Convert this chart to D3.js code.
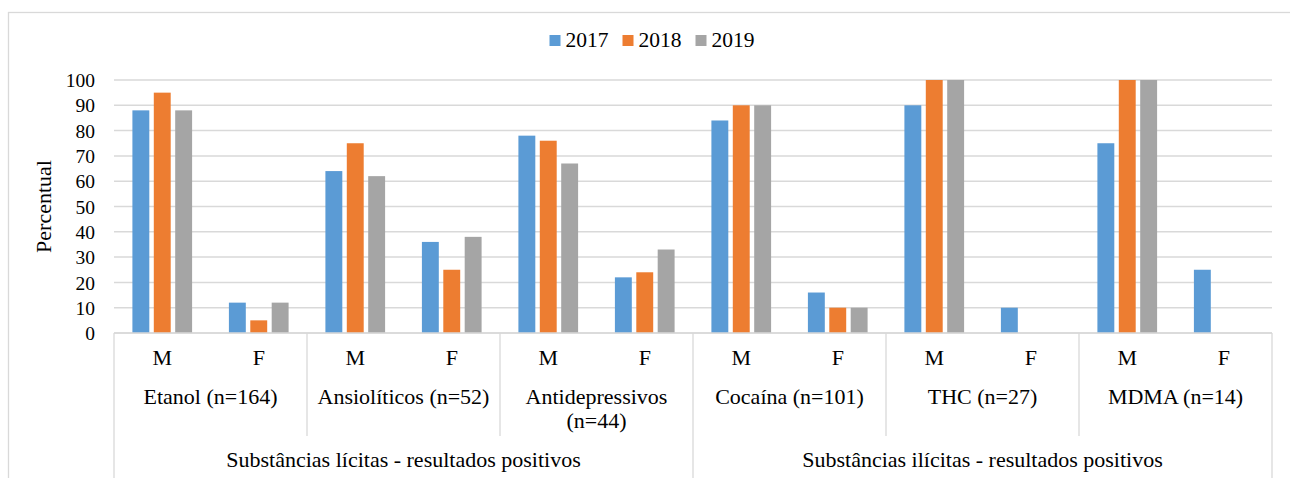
<!DOCTYPE html>
<html>
<head>
<meta charset="utf-8">
<script src="https://cdn.jsdelivr.net/npm/d3@7"></script>
<style>
  html, body { margin: 0; padding: 0; background: #fff; }
  svg { display: block; }
</style>
</head>
<body>
<svg id="chart" width="1290" height="478"></svg>
<script>
// ---- data ----
const years = ["2017", "2018", "2019"];
const sexes = ["M", "F"];
const substances = ["Etanol (n=164)", "Ansiolíticos (n=52)", "Antidepressivos (n=44)", "Cocaína (n=101)", "THC (n=27)", "MDMA (n=14)"];
const groups = ["Substâncias lícitas - resultados positivos", "Substâncias ilícitas - resultados positivos"];
const substancesPerGroup = 3;
const values2017 = [88, 12, 64, 36, 78, 22, 84, 16, 90, 10, 75, 25];
const values2018 = [95, 5, 75, 25, 76, 24, 90, 10, 100, 0, 100, 0];
const values2019 = [88, 12, 62, 38, 67, 33, 90, 10, 100, 0, 100, 0];
const yTicks = [0, 10, 20, 30, 40, 50, 60, 70, 80, 90, 100];
const yLabel = "Percentual";

const seriesValues = [values2017, values2018, values2019];
const colors = ["#5b9bd5", "#ed7d31", "#a5a5a5"];
const FONT = "Liberation Serif";

// ---- layout ----
const svg = d3.select("#chart");
const plot = { left: 114, right: 1272, top: 80, bottom: 333 };
const gridColor = "#d9d9d9";

function txt(sel, size) {
  return sel.style("font-family", FONT).style("font-size", size + "px").attr("fill", "#000");
}

// outer frame
svg.append("rect").attr("x", 8.5).attr("y", 12.5).attr("width", 1320).attr("height", 520)
  .attr("fill", "none").attr("stroke", gridColor).attr("stroke-width", 1.3);

const cats = d3.range(substances.length * sexes.length);
const x0 = d3.scaleBand().domain(cats).range([plot.left, plot.right]).padding(0);
const x1 = d3.scaleBand().domain(years).range([0, x0.bandwidth()]).paddingInner(0.21).paddingOuter(0.86);
const y = d3.scaleLinear().domain([0, 100]).range([plot.bottom, plot.top]);

// gridlines
svg.append("g").selectAll("line").data(yTicks).join("line")
  .attr("x1", plot.left).attr("x2", plot.right)
  .attr("y1", d => y(d)).attr("y2", d => y(d))
  .attr("stroke", gridColor).attr("stroke-width", 1.5);

// y axis labels
const yAxis = d3.axisLeft(y).tickValues(yTicks).tickSize(0).tickPadding(0);
const ya = svg.append("g").attr("transform", `translate(${95},0)`).call(yAxis)
  .attr("font-family", FONT);
ya.select(".domain").remove();
txt(ya.selectAll("text"), 19.5).attr("dy", "0.34em");

// y title
txt(svg.append("text"), 22).attr("transform", `translate(${51},${(plot.top + plot.bottom) / 2}) rotate(-90)`)
  .attr("text-anchor", "middle").text(yLabel);

// bars
const barData = [];
cats.forEach(c => years.forEach((yr, s) => barData.push({ c, yr, s, v: seriesValues[s][c] })));
svg.append("g").selectAll("rect").data(barData.filter(d => d.v > 0)).join("rect")
  .attr("x", d => x0(d.c) + x1(d.yr))
  .attr("width", x1.bandwidth())
  .attr("y", d => y(d.v))
  .attr("height", d => y(0) - y(d.v))
  .attr("fill", d => colors[d.s]);

// category axis lines
const catStep = x0.step();
const subW = catStep * sexes.length;
const grpW = subW * substancesPerGroup;
const axisG = svg.append("g").attr("stroke", gridColor).attr("stroke-width", 1.3);
axisG.append("line").attr("x1", plot.left).attr("x2", plot.right).attr("y1", plot.bottom).attr("y2", plot.bottom);
substances.forEach((s, i) => {
  if (i === 0) return;
  const xx = plot.left + i * subW;
  const full = i % substancesPerGroup === 0;
  axisG.append("line").attr("x1", xx).attr("x2", xx).attr("y1", plot.bottom).attr("y2", full ? 478 : 436);
});
axisG.append("line").attr("x1", plot.left).attr("x2", plot.left).attr("y1", plot.bottom).attr("y2", 478);
axisG.append("line").attr("x1", plot.right).attr("x2", plot.right).attr("y1", plot.bottom).attr("y2", 478);

const LBL = 22;
// M / F labels
txt(svg.append("g").selectAll("text").data(cats).join("text"), LBL)
  .attr("x", d => x0(d) + x0.bandwidth() / 2).attr("y", 365)
  .attr("text-anchor", "middle")
  .text(d => sexes[d % sexes.length]);

// substance labels (wrap)
const subG = svg.append("g");
substances.forEach((s, i) => {
  const cx = plot.left + (i + 0.5) * subW;
  const t = txt(subG.append("text"), LBL).attr("x", cx).attr("y", 404).attr("text-anchor", "middle");
  const words = s.split(" ");
  let line = [], lines = [];
  const probe = txt(subG.append("text"), LBL).attr("visibility", "hidden");
  words.forEach(w => {
    const test = line.concat([w]).join(" ");
    probe.text(test);
    if (probe.node().getComputedTextLength() > subW - 8 && line.length) {
      lines.push(line.join(" "));
      line = [w];
    } else line.push(w);
  });
  lines.push(line.join(" "));
  probe.remove();
  lines.forEach((l, k) => t.append("tspan").attr("x", cx).attr("y", 404 + k * 24).text(l));
});

// group labels
txt(svg.append("g").selectAll("text").data(groups).join("text"), LBL)
  .attr("x", (d, i) => plot.left + (i + 0.5) * grpW).attr("y", 467)
  .attr("text-anchor", "middle").text(d => d);

// legend
const leg = svg.append("g");
const items = years.map((yr, i) => {
  const g = leg.append("g");
  g.append("rect").attr("width", 11).attr("height", 11).attr("y", -12).attr("fill", colors[i]);
  const tx = txt(g.append("text"), 21.5).attr("x", 16).attr("y", 0).text(yr);
  return { g, w: 16 + tx.node().getComputedTextLength() };
});
const gap = 14;
const total = d3.sum(items, d => d.w) + gap * (items.length - 1);
let lx = 652 - total / 2;
items.forEach(it => { it.g.attr("transform", `translate(${lx},${47})`); lx += it.w + gap; });
</script>
</body>
</html>
